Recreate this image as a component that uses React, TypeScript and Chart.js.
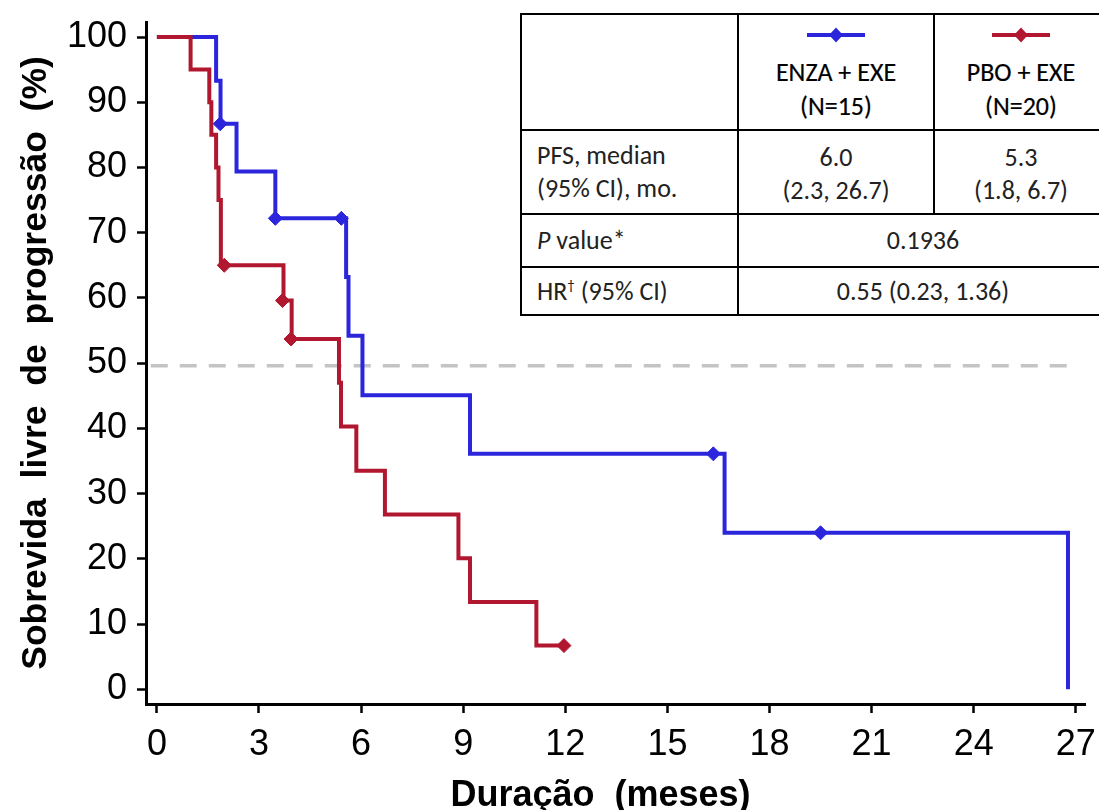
import React, { useEffect, useRef } from "react";
import { Chart, registerables } from "chart.js";

Chart.register(...registerables);

// Axis ticks
const xTicks = [0, 3, 6, 9, 12, 15, 18, 21, 24, 27];
const yTicks = [0, 10, 20, 30, 40, 50, 60, 70, 80, 90, 100];

// ENZA + EXE (N=15): Kaplan-Meier steps (time in months, survival %)
const enzaTimes = [0, 1.74, 1.87, 2.34, 3.48, 5.56, 5.63, 6.04, 9.2, 16.68, 26.77];
const enzaSurv = [100, 93.3, 86.7, 79.4, 72.2, 63.2, 54.2, 45.1, 36.1, 24.0, 0];
const enzaCensorTimes = [1.86, 3.48, 5.42, 16.35, 19.5];
const enzaCensorSurv = [86.7, 72.2, 72.2, 36.1, 24.0];

// PBO + EXE (N=20)
const pboTimes = [0, 0.99, 1.54, 1.6, 1.74, 1.81, 1.88, 3.72, 3.96, 5.35, 5.41, 5.86, 6.7, 8.86, 9.2, 11.15, 11.96];
const pboSurv = [100, 95, 90, 85, 80, 75, 65, 59.6, 53.7, 47.0, 40.3, 33.5, 26.8, 20.1, 13.4, 6.7, 6.7];
const pboCensorTimes = [1.98, 3.69, 3.94, 11.96];
const pboCensorSurv = [65, 59.6, 53.7, 6.7];

// Median reference line
const medianLineX = [-0.18, 26.85];
const medianLineY = [49.6, 49.6];

const BLUE = "#2b26dc";
const RED = "#b1182f";
const TICK_FONT = '"Liberation Sans", Arial, sans-serif';
const TABLE_FONT = 'Carlito, Lato, "Noto Sans", sans-serif';

function pts(xs: number[], ys: number[]) {
  return xs.map((x, i) => ({ x, y: ys[i] }));
}

function Marker({ color }: { color: string }) {
  return (
    <svg width={60} height={16} style={{ display: "block", margin: "0 auto" }}>
      <line x1={1} y1={8} x2={59} y2={8} stroke={color} strokeWidth={4} />
      <polygon points="30,0.5 37,8 30,15.5 23,8" fill={color} />
    </svg>
  );
}

export default function App() {
  const ref = useRef<HTMLCanvasElement>(null);

  useEffect(() => {
    document.body.style.margin = "0";
    const chart = new Chart(ref.current!, {
      type: "line",
      data: {
        datasets: [
          {
            label: "PBO censor",
            data: pts(pboCensorTimes, pboCensorSurv),
            showLine: false,
            pointStyle: "rectRot",
            pointRadius: 7,
            pointBackgroundColor: RED,
            pointBorderColor: RED,
            pointBorderWidth: 1,
            order: 0,
          },
          {
            label: "ENZA censor",
            data: pts(enzaCensorTimes, enzaCensorSurv),
            showLine: false,
            pointStyle: "rectRot",
            pointRadius: 7,
            pointBackgroundColor: BLUE,
            pointBorderColor: BLUE,
            pointBorderWidth: 1,
            order: 0,
          },
          {
            label: "PBO + EXE",
            data: pts(pboTimes, pboSurv),
            stepped: "before",
            borderColor: RED,
            borderWidth: 4,
            pointRadius: 0,
            fill: false,
            borderJoinStyle: "miter",
            order: 1,
          },
          {
            label: "ENZA + EXE",
            data: pts(enzaTimes, enzaSurv),
            stepped: "before",
            borderColor: BLUE,
            borderWidth: 4,
            pointRadius: 0,
            fill: false,
            borderJoinStyle: "miter",
            order: 2,
          },
          {
            label: "median",
            data: pts(medianLineX, medianLineY),
            borderColor: "#c4c4c4",
            borderWidth: 3.5,
            borderDash: [17, 12],
            pointRadius: 0,
            fill: false,
            order: 3,
          },
        ],
      },
      options: {
        responsive: false,
        animation: false,
        devicePixelRatio: 1,
        layout: { padding: { top: 22, right: 14, left: 0, bottom: 0 } },
        plugins: { legend: { display: false }, tooltip: { enabled: false } },
        scales: {
          x: {
            type: "linear",
            min: -0.32,
            max: 27.27,
            afterBuildTicks: (s: any) => {
              s.ticks = xTicks.map((v) => ({ value: v }));
            },
            afterFit: (s: any) => {
              s.height = 106;
              s.paddingLeft = 0;
              s.paddingRight = 0;
            },
            ticks: {
              font: { family: TICK_FONT, size: 36 },
              color: "#000",
              padding: 10,
              maxRotation: 0,
              autoSkip: false,
            },
            grid: {
              display: true,
              drawOnChartArea: false,
              drawTicks: true,
              tickLength: 9,
              tickWidth: 2.5,
              tickColor: "#000",
            },
            border: { display: true, color: "#000", width: 3 },
            title: {
              display: true,
              text: "Duração  (meses)   ",
              font: { family: TICK_FONT, size: 36, weight: "bold" },
              color: "#000",
              padding: { top: 0, bottom: -8 },
            },
          },
          y: {
            type: "linear",
            min: -2.25,
            max: 102.3,
            afterBuildTicks: (s: any) => {
              s.ticks = yTicks.map((v) => ({ value: v }));
            },
            afterFit: (s: any) => {
              s.width = 146;
              s.paddingTop = 0;
              s.paddingBottom = 0;
            },
            ticks: {
              font: { family: TICK_FONT, size: 36 },
              color: "#000",
              padding: 10,
            },
            grid: {
              display: true,
              drawOnChartArea: false,
              drawTicks: true,
              tickLength: 9,
              tickWidth: 2.5,
              tickColor: "#000",
            },
            border: { display: true, color: "#000", width: 3 },
            title: {
              display: true,
              text: "Sobrevida  livre  de  progressão  (%)",
              font: { family: TICK_FONT, size: 35.5, weight: "bold" },
              color: "#000",
              padding: { top: 15, bottom: 0 },
            },
          },
        },
      },
    } as any);
    return () => chart.destroy();
  }, []);

  const line = "2px solid #000";
  const cellBase: React.CSSProperties = {
    boxSizing: "border-box",
    borderRight: line,
    borderBottom: line,
    display: "flex",
    flexDirection: "column",
    justifyContent: "center",
    alignItems: "center",
    textAlign: "center",
    lineHeight: "33px",
    color: "#222",
  };
  const leftCell: React.CSSProperties = {
    ...cellBase,
    alignItems: "flex-start",
    textAlign: "left",
    paddingLeft: 15,
  };
  const headCell: React.CSSProperties = {
    ...cellBase,
    justifyContent: "flex-start",
    paddingTop: 12,
    color: "#000",
    lineHeight: "34px",
    WebkitTextStroke: "0.2px #000",
  };

  return (
    <div
      style={{
        position: "relative",
        width: 1099,
        height: 810,
        overflow: "hidden",
        background: "#fff",
      }}
    >
      <canvas
        ref={ref}
        width={1099}
        height={810}
        style={{ position: "absolute", left: 0, top: 0 }}
      />
      <div
        style={{
          position: "absolute",
          left: 520,
          top: 13,
          width: 589,
          height: 303,
          boxSizing: "border-box",
          borderTop: line,
          borderLeft: line,
          display: "grid",
          gridTemplateColumns: "217px 196px 174px",
          gridTemplateRows: "116px 84px 53px 48px",
          fontFamily: TABLE_FONT,
          fontSize: 26,
          background: "#fff",
        }}
      >
        <div style={cellBase}></div>
        <div style={headCell}>
          <Marker color={BLUE} />
          <div style={{ marginTop: 12 }}>ENZA + EXE</div>
          <div>(N=15)</div>
        </div>
        <div style={headCell}>
          <Marker color={RED} />
          <div style={{ marginTop: 12 }}>PBO + EXE</div>
          <div>(N=20)</div>
        </div>

        <div style={leftCell}>
          <div>PFS, median</div>
          <div>(95% CI), mo.</div>
        </div>
        <div style={{ ...cellBase, paddingTop: 3 }}>
          <div>6.0</div>
          <div>(2.3, 26.7)</div>
        </div>
        <div style={{ ...cellBase, paddingTop: 3 }}>
          <div>5.3</div>
          <div>(1.8, 6.7)</div>
        </div>

        <div style={leftCell}>
          <div>
            <i>P</i> value*
          </div>
        </div>
        <div style={{ ...cellBase, gridColumn: "2 / 4" }}>
          <div>0.1936</div>
        </div>

        <div style={leftCell}>
          <div>
            HR<sup style={{ fontSize: 15, lineHeight: 0 }}>†</sup> (95% CI)
          </div>
        </div>
        <div style={{ ...cellBase, gridColumn: "2 / 4" }}>
          <div>0.55 (0.23, 1.36)</div>
        </div>
      </div>
    </div>
  );
}
